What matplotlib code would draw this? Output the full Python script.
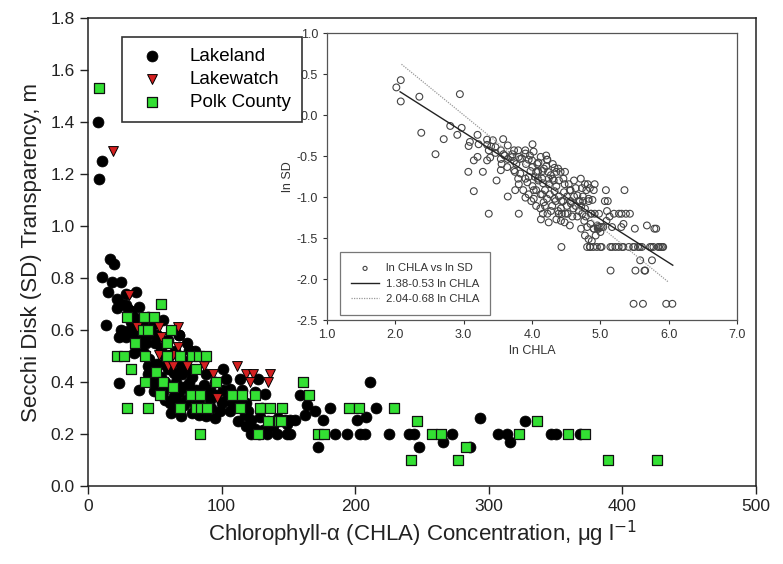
import numpy as np
import matplotlib
matplotlib.use("Agg")
import matplotlib.pyplot as plt

plt.rcParams['font.family'] = ['Liberation Sans', 'DejaVu Sans']

# ---------------- data (CHLA ug/l, SD m) ----------------
lakeland_chla = [7.5, 10.5, 8,
    16.5, 19.5, 10.8, 18.3, 24.6, 15, 22, 28.3, 35.8, 21.6, 28.3, 32, 38.3, 34.6, 13.3, 44.6, 49.6, 55.9, 40.9,
    24.6, 29.6, 34.6, 23.3, 28.3,
    23.3, 38.3, 49.6, 44.6, 49.6, 34.6, 43.4, 38.3, 45.8, 61.7, 64.7, 62.2, 69.7, 64.2, 57.1, 69.7,
    25, 30, 32, 36, 40, 42, 47, 52, 50, 55, 38, 42, 46, 52, 58, 60, 55, 58, 62, 66, 68, 66, 72, 64, 70, 75, 78,
    72, 60, 65, 68, 74, 80, 45, 48, 52, 56, 58,
    68.4, 75.9, 100.9, 103.5, 113.5, 127.3, 132.2, 70.9, 75.9, 80.9, 87.2, 91, 101, 106, 73.4, 83.4, 91, 103.5,
    83.4, 98.5, 106, 118.5, 117.3, 122.3, 118.5, 122.3, 131, 138.6, 141.1, 148.6, 148.6, 128.5, 112.3, 108.5,
    88, 95, 96, 110, 115, 125, 130, 120, 92, 88, 78, 80, 95, 112, 125, 135, 134, 128, 142, 100, 86, 76,
    158.6, 163.6, 169.9, 162.4, 154.9, 147.4, 151.1, 151.1, 176.2, 185.2, 193.9, 203.9, 207.7, 181.2, 201.7,
    208.2, 211.3, 215.8, 225, 143.6, 172.4,
    240, 243.9, 248, 265.9, 272.7, 286, 293.5, 307, 313.5, 316, 327.3, 346.6, 350.4, 367.9]
lakeland_sd = [1.40, 1.25, 1.18,
    0.875, 0.855, 0.805, 0.785, 0.785, 0.745, 0.72, 0.74, 0.745, 0.685, 0.695, 0.675, 0.69, 0.65, 0.62, 0.65, 0.625, 0.64, 0.62,
    0.60, 0.595, 0.585, 0.575, 0.575,
    0.395, 0.37, 0.365, 0.46, 0.46, 0.51, 0.55, 0.585, 0.585, 0.32, 0.345, 0.28, 0.27, 0.435, 0.47, 0.46,
    0.70, 0.68, 0.63, 0.62, 0.60, 0.57, 0.59, 0.58, 0.55, 0.53, 0.53, 0.51, 0.49, 0.47, 0.50, 0.45, 0.42, 0.40, 0.38, 0.40, 0.36, 0.33, 0.31, 0.30, 0.43, 0.45, 0.42,
    0.48, 0.56, 0.52, 0.58, 0.55, 0.52, 0.43, 0.40, 0.38, 0.36, 0.33,
    0.58, 0.525, 0.45, 0.41, 0.41, 0.41, 0.355, 0.38, 0.395, 0.37, 0.39, 0.37, 0.37, 0.375, 0.33, 0.32, 0.33, 0.33,
    0.275, 0.29, 0.29, 0.32, 0.275, 0.255, 0.23, 0.20, 0.215, 0.23, 0.20, 0.20, 0.24, 0.265, 0.33, 0.31,
    0.43, 0.40, 0.35, 0.35, 0.37, 0.36, 0.30, 0.29, 0.30, 0.27, 0.28, 0.31, 0.26, 0.25, 0.22, 0.25, 0.20, 0.20, 0.26, 0.32, 0.35, 0.36,
    0.35, 0.31, 0.29, 0.275, 0.255, 0.255, 0.255, 0.20, 0.255, 0.20, 0.20, 0.20, 0.20, 0.30, 0.255,
    0.265, 0.40, 0.30, 0.20, 0.255, 0.15,
    0.20, 0.20, 0.15, 0.17, 0.20, 0.15, 0.26, 0.20, 0.20, 0.17, 0.25, 0.20, 0.20, 0.20]

lakewatch_chla = [19, 30.8, 36.6, 53, 67.2, 54.6, 67.2, 53.4, 59.6, 63.9, 59.6, 63.4, 73.9, 86.5, 93.5,
    111.5, 118.5, 123.5, 121, 136.6, 134.8, 96.5]
lakewatch_sd = [1.29, 0.735, 0.61, 0.61, 0.61, 0.575, 0.535, 0.505, 0.505, 0.505, 0.46, 0.46, 0.46, 0.46, 0.43,
    0.46, 0.43, 0.43, 0.40, 0.43, 0.40, 0.34]

polk_chla = [8, 55, 29, 42, 49.5, 41, 45, 62, 35, 59, 21.5, 26.6, 42.5, 59.5, 69, 78, 83, 88.5, 32.5, 51, 81, 96,
    42.7, 56, 63.4, 54, 77.2, 84, 108, 115.3, 125.2, 161, 165.5, 29, 45, 68.5, 80.7, 84.5, 89, 114, 129, 136.6,
    145.5, 134.9, 142.9, 84, 127.3, 172, 176.5, 195, 202.5, 144.8, 228.8, 245.9, 257.6, 264.4, 283.2, 241.4,
    276.9, 322.8, 336.1, 359.6, 372.2, 389.2, 425.8]
polk_sd = [1.53, 0.70, 0.65, 0.65, 0.65, 0.60, 0.60, 0.60, 0.55, 0.55, 0.50, 0.50, 0.50, 0.50, 0.50, 0.50, 0.50, 0.50,
    0.45, 0.44, 0.45, 0.40, 0.40, 0.40, 0.38, 0.35, 0.35, 0.35, 0.35, 0.35, 0.35, 0.40, 0.35, 0.30, 0.30, 0.30,
    0.30, 0.30, 0.30, 0.30, 0.30, 0.30, 0.30, 0.25, 0.25, 0.20, 0.20, 0.20, 0.20, 0.30, 0.30, 0.25, 0.30, 0.25,
    0.20, 0.20, 0.15, 0.10, 0.10, 0.20, 0.25, 0.20, 0.20, 0.10, 0.10]

# regression coefficients shown in the inset (intercept, slope) and line ranges
fit1 = (1.38, -0.53)
fit1_range = (2.07, 6.06)
fit2 = (2.04, -0.68)
fit2_range = (2.09, 6.0)

# ---------------- figure ----------------
fig = plt.figure(figsize=(7.83, 5.64), dpi=100)
ax = fig.add_axes([88/783, 1-486/564, (756-88)/783, (486-18)/564])

ax.scatter(lakeland_chla, lakeland_sd, s=62, marker='o', c='black', edgecolors='black',
           linewidths=0.5, label='Lakeland', zorder=3)
ax.scatter(lakewatch_chla, lakewatch_sd, s=50, marker='v', c='#d42020', edgecolors='black',
           linewidths=0.7, label='Lakewatch', zorder=4)
ax.scatter(polk_chla, polk_sd, s=42, marker='s', c='#33e033', edgecolors='#111111',
           linewidths=0.9, label='Polk County', zorder=5)

ax.set_xlim(0, 500)
ax.set_ylim(0, 1.8)
ax.set_xticks([0, 100, 200, 300, 400, 500])
ax.set_yticks(np.arange(0, 1.81, 0.2))
ax.set_yticklabels([f"{v:.1f}" for v in np.arange(0, 1.81, 0.2)])
ax.tick_params(direction='out', length=6, width=1, labelsize=12.5, colors='#222222')
for s in ax.spines.values():
    s.set_linewidth(1.1)
    s.set_color('#222222')
ax.set_xlabel(r"Chlorophyll-α (CHLA) Concentration, μg l$^{-1}$", fontsize=16, labelpad=3, color='#222222')
ax.set_ylabel("Secchi Disk (SD) Transparency, m", fontsize=16, labelpad=6, color='#222222')

leg = ax.legend(loc='upper left', bbox_to_anchor=(122/783, 1-37/564), bbox_transform=fig.transFigure,
                fontsize=13.5, frameon=True, fancybox=False, borderpad=0.6, handletextpad=1.0,
                borderaxespad=0, labelspacing=0.3, handlelength=2.0)
leg.get_frame().set_edgecolor('black')
leg.get_frame().set_linewidth(1.2)

# ---------------- inset ----------------
gray = '#555555'
ins = fig.add_axes([327/783, 1-320/564, (737-327)/783, (320-33)/564])
ln_chla = np.log(np.concatenate([lakeland_chla, lakewatch_chla, polk_chla]))
ln_sd = np.log(np.concatenate([lakeland_sd, lakewatch_sd, polk_sd]))
ins.scatter(ln_chla, ln_sd, s=24, facecolors='none', edgecolors='#444444', linewidths=0.8,
            label='ln CHLA vs ln SD', zorder=3)
xa = np.array(fit1_range)
ins.plot(xa, fit1[0] + fit1[1]*xa, color='#222222', lw=1.0,
         label=f"{fit1[0]:.2f}-{abs(fit1[1]):.2f} ln CHLA", zorder=4)
xb = np.array(fit2_range)
ins.plot(xb, fit2[0] + fit2[1]*xb, color='#999999', lw=0.9, ls=(0, (1, 1)),
         label=f"{fit2[0]:.2f}-{abs(fit2[1]):.2f} ln CHLA", zorder=4)
ins.set_xlim(1, 7)
ins.set_ylim(-2.5, 1.0)
ins.set_xticks(np.arange(1, 7.01, 1))
ins.set_xticklabels([f"{v:.1f}" for v in np.arange(1, 7.01, 1)])
ins.set_yticks(np.arange(-2.5, 1.01, 0.5))
ins.set_yticklabels([f"{v:.1f}" for v in np.arange(-2.5, 1.01, 0.5)])
ins.tick_params(direction='out', length=3, width=0.8, labelsize=9, colors='#333333')
for s in ins.spines.values():
    s.set_color(gray)
    s.set_linewidth(0.9)
ins.set_xlabel("ln CHLA", fontsize=9, color='#333333', labelpad=3)
ins.set_ylabel("ln SD", fontsize=9, color='#333333', labelpad=2)
il = ins.legend(loc='upper left', bbox_to_anchor=(340/783, 1-252/564), bbox_transform=fig.transFigure,
                fontsize=8.2, frameon=True, fancybox=False, borderaxespad=0, borderpad=1.0,
                labelspacing=0.45, handlelength=2.4, handletextpad=0.6, markerscale=0.6)
il.get_frame().set_edgecolor(gray)
il.get_frame().set_linewidth(0.9)
for t in il.get_texts():
    t.set_color('#333333')

fig.savefig("out.png", dpi=100)
